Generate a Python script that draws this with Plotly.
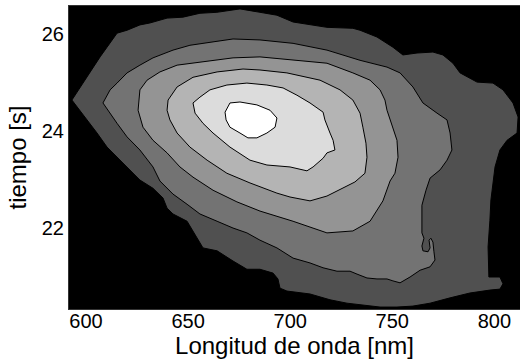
import plotly.graph_objects as go

# Wavelength (nm) / time (s) outlines of each filled contour level, outermost first
level1_nm = [593.1, 598.5, 603.4, 606.9, 610.3, 615.2, 620.1, 626.4, 631.3, 639.7, 647.5, 655.8,
             664.1, 672.0, 675.4, 685.2, 693.5, 701.4, 709.7, 718.0, 730.7, 734.2, 742.5, 750.3,
             755.2, 762.1, 769.9, 774.8, 779.7, 783.2, 791.5, 799.3, 804.2, 809.1, 811.6, 811.1,
             806.2, 802.7, 800.3, 799.3, 798.3, 797.8, 796.9, 797.3, 802.7, 804.2, 802.7, 797.8,
             788.0, 778.3, 768.5, 760.1, 752.3, 744.0, 735.6, 727.8, 719.5, 709.7, 698.4, 695.0,
             694.0, 691.6, 685.2, 678.8, 672.0, 664.2, 657.3, 654.4, 649.5, 642.6, 639.7, 637.7,
             632.8, 626.4, 620.1, 615.2, 610.3, 605.4, 600.5, 595.6]
level1_s = [24.64, 24.99, 25.32, 25.53, 25.73, 26.02, 26.08, 26.19, 26.23, 26.33, 26.35, 26.43,
            26.45, 26.49, 26.52, 26.45, 26.39, 26.25, 26.19, 26.14, 26.12, 26.08, 25.94, 25.73,
            25.57, 25.61, 25.63, 25.57, 25.40, 25.20, 25.01, 24.99, 24.85, 24.58, 24.29, 23.96,
            23.81, 23.61, 23.26, 22.95, 22.58, 22.16, 21.61, 20.99, 20.99, 20.85, 20.74, 20.72,
            20.66, 20.56, 20.45, 20.39, 20.37, 20.37, 20.41, 20.45, 20.52, 20.64, 20.70, 20.76,
            20.95, 21.07, 21.15, 21.15, 21.32, 21.53, 21.59, 21.79, 22.14, 22.29, 22.41, 22.62,
            22.82, 22.99, 23.26, 23.46, 23.67, 23.96, 24.23, 24.49]

level2_nm = [608.3, 611.8, 615.2, 620.1, 626.4, 632.8, 642.6, 650.9, 662.2, 672.0, 685.2, 701.4,
             718.0, 734.2, 747.4, 753.8, 760.1, 765.0, 771.9, 776.8, 778.3, 779.2, 776.8, 773.4,
             768.5, 766.5, 764.5, 764.5, 764.5, 765.5, 764.5, 765.0, 767.5, 768.5, 768.0, 768.9,
             769.9, 770.4, 770.9, 768.5, 763.6, 758.7, 753.8, 750.3, 747.4, 742.5, 737.6, 732.7,
             729.3, 722.9, 716.1, 709.7, 701.4, 693.5, 685.2, 678.8, 672.0, 664.2, 655.8, 649.5,
             642.6, 636.2, 632.8, 626.4, 620.1, 615.2]
level2_s = [24.58, 24.85, 24.99, 25.20, 25.36, 25.51, 25.67, 25.77, 25.84, 25.90, 25.88, 25.81,
            25.67, 25.46, 25.32, 25.20, 24.91, 24.58, 24.37, 24.23, 23.96, 23.61, 23.40, 23.20,
            23.03, 22.78, 22.47, 22.16, 21.90, 21.79, 21.63, 21.53, 21.51, 21.59, 21.75, 21.79,
            21.71, 21.51, 21.34, 21.20, 21.13, 20.99, 20.87, 20.91, 20.95, 20.95, 20.97, 21.05,
            21.11, 21.11, 21.18, 21.28, 21.38, 21.59, 21.75, 21.90, 22.00, 22.14, 22.29, 22.49,
            22.70, 22.97, 23.26, 23.61, 23.88, 24.16]

level3_nm = [625.5, 626.4, 629.9, 636.2, 644.6, 655.8, 672.0, 685.2, 701.4, 718.0, 730.7, 739.1,
             744.0, 746.4, 747.4, 750.3, 752.3, 752.8, 751.3, 748.9, 745.4, 739.1, 730.7, 718.0,
             701.4, 685.2, 673.9, 662.2, 652.4, 646.0, 639.7, 632.8, 627.9]
level3_s = [24.43, 24.85, 25.05, 25.22, 25.36, 25.42, 25.51, 25.53, 25.46, 25.40, 25.20, 25.05,
            24.85, 24.64, 24.43, 24.08, 23.81, 23.46, 23.13, 22.97, 22.56, 22.14, 21.94, 21.90,
            22.14, 22.35, 22.54, 22.78, 23.05, 23.26, 23.55, 23.81, 24.08]

level4_nm = [639.7, 640.2, 644.6, 652.4, 664.2, 676.9, 685.2, 698.4, 714.6, 724.4, 730.7, 734.2,
             735.6, 737.1, 737.6, 736.6, 731.7, 725.9, 718.0, 709.7, 699.9, 693.5, 680.3, 669.0,
             659.3, 650.9, 644.6, 641.1]
level4_s = [24.43, 24.64, 24.91, 25.11, 25.22, 25.28, 25.26, 25.20, 25.05, 24.85, 24.64, 24.37,
            24.08, 23.75, 23.46, 23.13, 22.95, 22.82, 22.66, 22.56, 22.64, 22.72, 22.93, 23.13,
            23.40, 23.67, 23.96, 24.23]

level5_nm = [652.4, 653.4, 657.3, 662.2, 670.5, 680.3, 688.6, 699.9, 708.2, 711.2, 716.1, 718.0,
             721.9, 721.0, 719.5, 717.0, 716.1, 709.7, 703.3, 696.5, 688.6, 678.8, 669.0, 660.7,
             655.8]
level5_s = [24.58, 24.37, 24.16, 23.96, 23.67, 23.40, 23.30, 23.26, 23.18, 23.26, 23.44, 23.55,
            23.61, 23.81, 23.96, 24.23, 24.39, 24.58, 24.74, 24.89, 24.95, 24.99, 24.95, 24.85,
            24.70]

level6_nm = [668.1, 670.5, 675.4, 683.7, 690.1, 693.5, 692.6, 688.6, 683.7, 679.3, 675.4, 670.5,
             668.6]
level6_s = [24.39, 24.58, 24.60, 24.54, 24.43, 24.27, 24.08, 23.96, 23.86, 23.86, 23.96, 24.08,
            24.23]

x_ticks = [600, 650, 700, 750, 800]
y_ticks = [22, 24, 26]

levels = [
    (level1_nm, level1_s, "#505050"),
    (level2_nm, level2_s, "#737373"),
    (level3_nm, level3_s, "#949494"),
    (level4_nm, level4_s, "#b4b4b4"),
    (level5_nm, level5_s, "#dcdcdc"),
    (level6_nm, level6_s, "#ffffff"),
]

fig = go.Figure()
for xs, ys, color in levels:
    fig.add_trace(go.Scatter(
        x=xs + xs[:1], y=ys + ys[:1],
        mode="lines", fill="toself", fillcolor=color,
        line=dict(color="black", width=1),
        hoverinfo="skip", showlegend=False,
    ))

font_family = "Liberation Sans, Arial, sans-serif"
fig.update_layout(
    width=520, height=362,
    margin=dict(l=69, r=0, t=6, b=53),
    paper_bgcolor="white",
    plot_bgcolor="black",
    font=dict(family=font_family, color="black", size=20),
    xaxis=dict(
        range=[591.67, 812.54], tickvals=x_ticks, ticks="",
        showgrid=False, zeroline=False, showline=True, linecolor="#333333",
        mirror=True, tickfont=dict(size=20), ticklabelstandoff=-6,
        title=dict(text="Longitud de onda [nm]", font=dict(size=24), standoff=0),
    ),
    yaxis=dict(
        range=[20.33, 26.58], tickvals=y_ticks, ticks="",
        showgrid=False, zeroline=False, showline=True, linecolor="#333333",
        mirror=True, tickfont=dict(size=20),
        title=dict(text="tiempo [s]", font=dict(size=24), standoff=8),
    ),
)

fig.write_html("out.html")
